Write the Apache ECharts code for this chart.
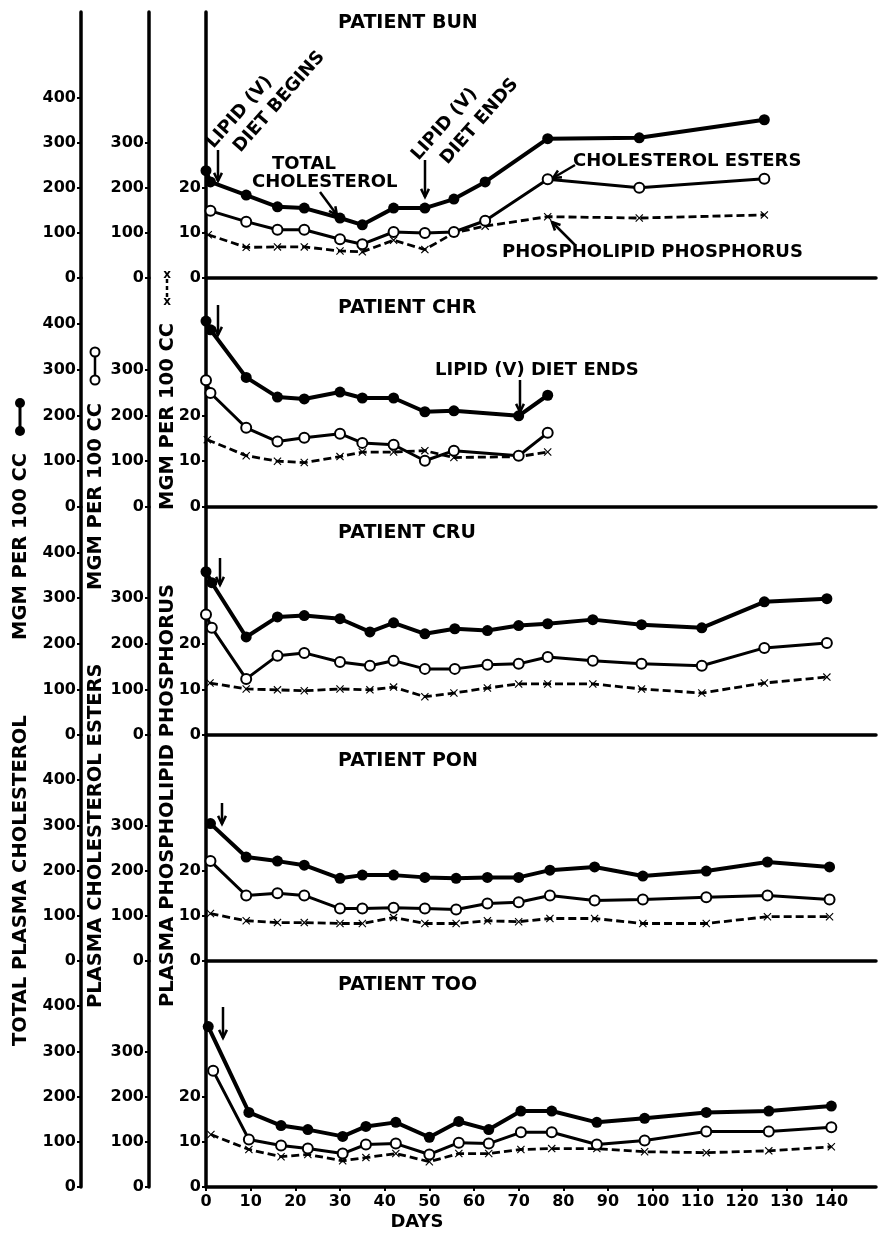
<!DOCTYPE html>
<html><head><meta charset="utf-8">
<script src="https://cdn.jsdelivr.net/npm/echarts@6/dist/echarts.min.js"></script>
<style>html,body{margin:0;padding:0;background:#fff}#c{width:879px;height:1234px}</style>
</head><body><div id="c"></div>
<script>
// ---------- DATA (days, mg per 100 cc) ----------
const patients = ['BUN', 'CHR', 'CRU', 'PON', 'TOO'];
const dayTicks = [0, 10, 20, 30, 40, 50, 60, 70, 80, 90, 100, 110, 120, 130, 140];
const totalTicks = [0, 100, 200, 300, 400];
const esterTicks = [0, 100, 200, 300];
const phosTicks = [0, 10, 20];

// BUN
const bunTotalDays = [0, 1, 9, 16, 22, 30, 35, 42, 49, 55.5, 62.5, 76.5, 97, 125];
const bunTotal     = [238, 213, 184, 158, 155, 133, 118, 155, 155, 175, 213, 309, 311, 351];
const bunEsterDays = [1, 9, 16, 22, 30, 35, 42, 49, 55.5, 62.5, 76.5, 97, 125];
const bunEsters    = [149, 125, 107, 107, 86, 75, 102, 100, 102, 127, 219, 200, 220];
const bunPhosDays  = [0.5, 9, 16, 22, 30, 35, 42, 49, 55.5, 62.5, 76.5, 97, 125];
const bunPhos      = [9.6, 6.8, 6.9, 6.9, 6.0, 5.8, 8.4, 6.3, 10.0, 11.5, 13.6, 13.3, 14.0];
// CHR
const chrDays      = [0, 1, 9, 16, 22, 30, 35, 42, 49, 55.5, 70, 76.5];
const chrTotal     = [406, 387, 283, 240, 236, 251, 238, 238, 208, 210, 199, 244];
const chrEsters    = [277, 249, 173, 143, 151, 160, 140, 136, 101, 123, 112, 162];
const chrPhosDays  = [0.3, 9, 16, 22, 30, 35, 42, 49, 55.5, 70, 76.5];
const chrPhos      = [14.7, 11.2, 10.0, 9.7, 11.0, 12.0, 12.0, 12.3, 10.8, 11.0, 12.0];
// CRU
const cruDays      = [0, 1.3, 9, 16, 22, 30, 36.7, 42, 49, 55.7, 63, 70, 76.5, 86.6, 97.5, 111, 125, 139];
const cruTotal     = [358, 334, 215, 259, 262, 255, 226, 246, 222, 233, 229, 240, 244, 253, 242, 235, 292, 299];
const cruEsters    = [264, 235, 123, 174, 180, 160, 152, 163, 145, 145, 154, 156, 171, 163, 156, 152, 191, 202];
const cruPhosDays  = [0.9, 9, 16, 22, 30, 36.7, 42, 49, 55.5, 63, 70, 76.5, 86.6, 97.5, 111, 125, 139];
const cruPhos      = [11.4, 10.1, 9.9, 9.7, 10.1, 9.9, 10.5, 8.4, 9.2, 10.3, 11.2, 11.2, 11.2, 10.1, 9.2, 11.4, 12.7];
// PON
const ponDays      = [1, 9, 16, 22, 30, 35, 42, 49, 56, 63, 70, 77, 87, 97.8, 112, 125.7, 139.6];
const ponTotal     = [304, 230, 221, 212, 183, 190, 190, 185, 183, 185, 185, 201, 208, 188, 199, 219, 208];
const ponEsters    = [221, 145, 150, 145, 116, 116, 118, 116, 114, 127, 130, 145, 134, 136, 141, 145, 136];
const ponPhos      = [10.5, 8.9, 8.5, 8.5, 8.3, 8.3, 9.6, 8.3, 8.3, 8.9, 8.7, 9.4, 9.4, 8.3, 8.3, 9.8, 9.8];
// TOO
const tooTotalDays = [0.5, 9.6, 16.8, 22.8, 30.6, 35.8, 42.5, 50, 56.6, 63.3, 70.5, 77.4, 87.5, 98.2, 112, 126, 140];
const tooTotal     = [355, 165, 136, 127, 112, 134, 143, 110, 145, 127, 168, 168, 143, 152, 165, 168, 179];
const tooEsterDays = [1.6, 9.6, 16.8, 22.8, 30.6, 35.8, 42.5, 50, 56.6, 63.3, 70.5, 77.4, 87.5, 98.2, 112, 126, 140];
const tooEsters    = [257, 105, 92, 85, 74, 94, 96, 72, 98, 96, 121, 121, 94, 103, 123, 123, 132];
const tooPhosDays  = [1.1, 9.6, 16.8, 22.8, 30.6, 35.8, 42.5, 50, 56.6, 63.3, 70.5, 77.4, 87.5, 98.2, 112, 126, 140];
const tooPhos      = [11.6, 8.3, 6.7, 7.2, 5.8, 6.5, 7.4, 5.6, 7.4, 7.4, 8.3, 8.5, 8.5, 7.8, 7.6, 8.0, 8.9];

const panelData = [
  [bunTotalDays, bunTotal, bunEsterDays, bunEsters, bunPhosDays, bunPhos],
  [chrDays, chrTotal, chrDays, chrEsters, chrPhosDays, chrPhos],
  [cruDays, cruTotal, cruDays, cruEsters, cruPhosDays, cruPhos],
  [ponDays, ponTotal, ponDays, ponEsters, ponDays, ponPhos],
  [tooTotalDays, tooTotal, tooEsterDays, tooEsters, tooPhosDays, tooPhos]
];

// ---------- LAYOUT ----------
const FONT = 'DejaVu Sans';
const tops = [12, 278, 507, 735, 961];
const heights = [266, 229, 228, 226, 226];
const ymax = [590, 500, 500, 500, 500];
const zip = (a, b) => a.map((d, i) => [d, b[i]]);
const xPath = 'path://M1,0L5,4L9,0L10,1L6,5L10,9L9,10L5,6L1,10L0,9L4,5L0,1Z';
const lbl = {fontFamily: FONT, fontWeight: 'bold', fontSize: 16, color: '#000'};

const grid = [], xAxis = [], yAxis = [], series = [];
patients.forEach((p, i) => {
  grid.push({left: 206, right: 3, top: tops[i], height: heights[i]});
  const last = i === patients.length - 1;
  xAxis.push({
    type: 'value', gridIndex: i, min: 0, max: 150, interval: 10,
    axisLine: {show: true, onZero: false, lineStyle: {color: '#000', width: 3.5}},
    axisTick: {show: last, length: 4, lineStyle: {color: '#000', width: 2}, customValues: dayTicks},
    axisLabel: Object.assign({show: last, margin: 7, customValues: dayTicks}, lbl),
    splitLine: {show: false}
  });
  const mkY = (max, interval, offset, ticks) => ({
    type: 'value', gridIndex: i, min: 0, max: max, interval: interval,
    position: 'left', offset: offset,
    axisLine: {show: true, onZero: false, lineStyle: {color: '#000', width: 3.5}},
    axisTick: {show: true, length: 4, lineStyle: {color: '#000', width: 2}, customValues: ticks},
    axisLabel: Object.assign({margin: 5, customValues: ticks}, lbl),
    splitLine: {show: false}
  });
  yAxis.push(mkY(ymax[i], 100, 125, totalTicks));
  yAxis.push(mkY(ymax[i], 100, 57, esterTicks));
  yAxis.push(mkY(ymax[i] / 10, 10, 0, phosTicks));
  const d = panelData[i];
  series.push({
    type: 'line', xAxisIndex: i, yAxisIndex: 3 * i + 2, data: zip(d[4], d[5]), z: 2,
    symbol: xPath, symbolSize: 8, itemStyle: {color: '#000'},
    lineStyle: {color: '#000', width: 2.8, type: [8, 4]}
  });
  series.push({
    type: 'line', xAxisIndex: i, yAxisIndex: 3 * i, data: zip(d[2], d[3]), z: 3,
    symbol: 'circle', symbolSize: 10,
    itemStyle: {color: '#fff', borderColor: '#000', borderWidth: 2},
    lineStyle: {color: '#000', width: 3}
  });
  series.push({
    type: 'line', xAxisIndex: i, yAxisIndex: 3 * i, data: zip(d[0], d[1]), z: 4,
    symbol: 'circle', symbolSize: 11, itemStyle: {color: '#000'},
    lineStyle: {color: '#000', width: 4}
  });
});

// ---------- ANNOTATIONS ----------
function arrow(x1, y1, x2, y2) {
  const a = Math.atan2(y2 - y1, x2 - x1), L = 9, w = 0.45;
  const p1 = [x2 - L * Math.cos(a - w), y2 - L * Math.sin(a - w)];
  const p2 = [x2 - L * Math.cos(a + w), y2 - L * Math.sin(a + w)];
  return [
    {type: 'line', shape: {x1, y1, x2, y2}, style: {stroke: '#000', lineWidth: 2.5}},
    {type: 'polyline', shape: {points: [p1, [x2, y2], p2]}, style: {stroke: '#000', lineWidth: 2.5, fill: null}}
  ];
}
function txt(s, x, y, size, rot, align) {
  return {type: 'text', x: x, y: y, rotation: rot || 0,
    style: {text: s, fontFamily: FONT, fontWeight: 'bold', fontSize: size, fill: '#000',
      textAlign: align || 'left', textVerticalAlign: 'middle'}};
}
const titleY = [23, 308, 533, 761, 985];
const g = [];
patients.forEach((p, i) => g.push(txt('PATIENT ' + p, 338, titleY[i], 19)));
const R = 0.85;
g.push(txt('LIPID (V)', 210, 146, 18, R));
g.push(txt('DIET BEGINS', 237, 150, 18, R));
g.push(txt('LIPID (V)', 415, 158, 18, R));
g.push(txt('DIET ENDS', 444, 162, 18, R));
g.push(txt('TOTAL', 272, 164, 18));
g.push(txt('CHOLESTEROL', 252, 182, 18));
g.push(txt('CHOLESTEROL ESTERS', 573, 161, 18));
g.push(txt('PHOSPHOLIPID PHOSPHORUS', 502, 252, 18));
g.push(txt('LIPID (V) DIET ENDS', 435, 370, 18));
g.push(txt('DAYS', 417, 1222, 18, 0, 'center'));
const V = Math.PI / 2;
g.push(txt('TOTAL PLASMA CHOLESTEROL', 21, 1046, 19.5, V));
g.push(txt('MGM PER 100 CC', 21, 640, 19.5, V));
g.push(txt('PLASMA CHOLESTEROL ESTERS', 96, 1008, 19.5, V));
g.push(txt('MGM PER 100 CC', 96, 590, 19.5, V));
g.push(txt('PLASMA PHOSPHOLIPID PHOSPHORUS', 168, 1007, 19.5, V));
g.push(txt('MGM PER 100 CC', 168, 510, 19.5, V));
[[218,150,218,181],[320,192,337,215],[425,160,425,197],[575,165,553,178],[575,245,552,222],
 [218,305,218,335],[520,380,520,412],[220,558,220,585],[222,803,222,824],[223,1007,223,1038]]
  .forEach(a => g.push(...arrow(a[0], a[1], a[2], a[3])));
// legend keys on the axis titles
g.push({type: 'line', shape: {x1: 20, y1: 403, x2: 20, y2: 431}, style: {stroke: '#000', lineWidth: 3}});
g.push({type: 'circle', shape: {cx: 20, cy: 403, r: 5}, style: {fill: '#000'}});
g.push({type: 'circle', shape: {cx: 20, cy: 431, r: 5}, style: {fill: '#000'}});
g.push({type: 'line', shape: {x1: 95, y1: 352, x2: 95, y2: 380}, style: {stroke: '#000', lineWidth: 2.5}});
g.push({type: 'circle', shape: {cx: 95, cy: 352, r: 4.5}, style: {fill: '#fff', stroke: '#000', lineWidth: 2}});
g.push({type: 'circle', shape: {cx: 95, cy: 380, r: 4.5}, style: {fill: '#fff', stroke: '#000', lineWidth: 2}});
g.push({type: 'line', shape: {x1: 167, y1: 279, x2: 167, y2: 298}, style: {stroke: '#000', lineWidth: 2.5, lineDash: [4, 3]}});
g.push(txt('x', 167, 275, 12, 0, 'center'));
g.push(txt('x', 167, 302, 12, 0, 'center'));

const chart = echarts.init(document.getElementById('c'), null, {renderer: 'canvas'});
chart.setOption({
  animation: false, backgroundColor: '#fff',
  grid, xAxis, yAxis, series, graphic: {elements: g}
});
</script></body></html>
